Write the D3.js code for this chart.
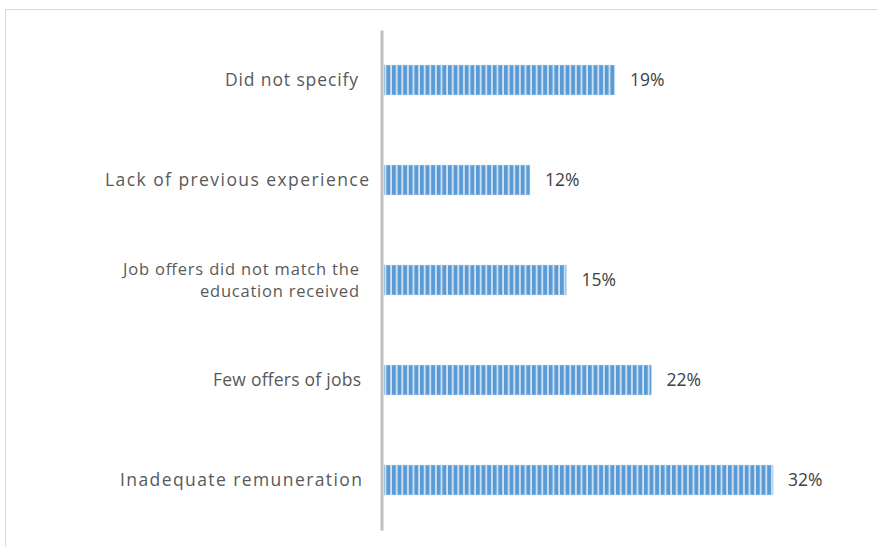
<!DOCTYPE html>
<html>
<head>
<meta charset="utf-8">
<script src="https://cdn.jsdelivr.net/npm/d3@7"></script>
<style>
  html, body { margin: 0; padding: 0; background: #fff; }
  svg { display: block; }
</style>
</head>
<body>
<svg id="chart" width="877" height="547"></svg>
<script>
// ---- data ----
const categories = [
  "Did not specify",
  "Lack of previous experience",
  "Job offers did not match the education received",
  "Few offers of jobs",
  "Inadequate remuneration"
];
const values = [19, 12, 15, 22, 32];
const labelLines = [
  ["Did not specify"],
  ["Lack of previous experience"],
  ["Job offers did not match the", "education received"],
  ["Few offers of jobs"],
  ["Inadequate remuneration"]
];
// ---- styling measured from the reference (not data) ----
const labelWidths = [[133], [264], [236, 159], [148], [242]];
const labelRight = [358, 369, 359, 361, 362];

const svg = d3.select("#chart");

// outer chart frame (extends past the right/bottom edge as in the reference)
svg.append("rect")
  .attr("x", 5.5).attr("y", 9.5)
  .attr("width", 900).attr("height", 560)
  .attr("fill", "#fff")
  .attr("stroke", "#d9d9d9")
  .attr("stroke-width", 1);

// stripe pattern
const defs = svg.append("defs");
const pat = defs.append("pattern")
  .attr("id", "stripes")
  .attr("patternUnits", "userSpaceOnUse")
  .attr("width", 5.6).attr("height", 10);
pat.append("rect").attr("width", 5.6).attr("height", 10).attr("fill", "#5b9bd5");
pat.append("rect").attr("x", 3.8).attr("width", 1.8).attr("height", 10).attr("fill", "#cfe1f3");

const x = d3.scaleLinear().domain([0, 35]).range([384, 384 + 35 * 12.16]);
const y = d3.scaleBand().domain(categories).range([30, 530])
  .paddingInner(0.7).paddingOuter(0.35);

const data = categories.map((c, i) => ({
  cat: c, v: values[i], lines: labelLines[i], widths: labelWidths[i], right: labelRight[i]
}));

// bars
svg.append("g").selectAll("rect")
  .data(data).join("rect")
  .attr("x", x(0))
  .attr("y", d => y(d.cat))
  .attr("width", d => x(d.v) - x(0))
  .attr("height", y.bandwidth())
  .attr("fill", "url(#stripes)")
  .attr("stroke", "#cfe1f3")
  .attr("stroke-width", 0.5);

// vertical axis line
const yAxis = d3.axisLeft(y).tickSize(0).tickFormat("");
const ag = svg.append("g").attr("transform", `translate(${x(0) - 2.5},0)`).call(yAxis);
ag.select(".domain").attr("stroke", "#bfbfbf").attr("stroke-width", 3);

// category labels
const font = "'Open Sans', 'Liberation Sans', sans-serif";
const lg = svg.append("g");
data.forEach(d => {
  const cy = y(d.cat) + y.bandwidth() / 2;
  const n = d.lines.length;
  const lh = 22;
  d.lines.forEach((ln, j) => {
    lg.append("text")
      .attr("x", d.right)
      .attr("y", cy + (j - (n - 1) / 2) * lh)
      .attr("dy", "0.36em")
      .attr("text-anchor", "end")
      .attr("font-family", font)
      .attr("font-size", n > 1 ? 16.5 : 17.5)
      .attr("fill", "#595959")
      .attr("textLength", d.widths[j])
      .attr("lengthAdjust", "spacing")
      .text(ln);
  });
});

// value labels
svg.append("g").selectAll("text")
  .data(data).join("text")
  .attr("x", d => x(d.v) + 15)
  .attr("y", d => y(d.cat) + y.bandwidth() / 2)
  .attr("dy", "0.36em")
  .attr("font-family", font)
  .attr("font-size", 17.5)
  .attr("fill", "#404040")
  .text(d => d.v + "%");
</script>
</body>
</html>
